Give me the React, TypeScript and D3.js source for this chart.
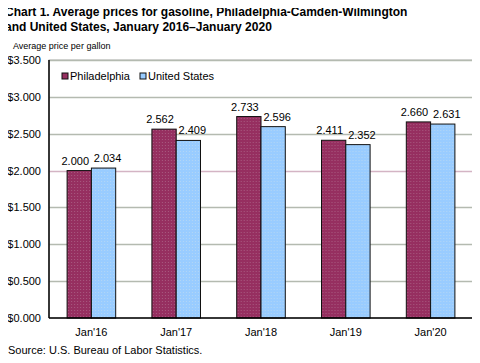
import { useEffect, useRef } from 'react'
import * as d3 from 'd3'

const categories = ["Jan'16", "Jan'17", "Jan'18", "Jan'19", "Jan'20"]
const seriesNames = ['Philadelphia', 'United States']
const philadelphia = [2.0, 2.562, 2.733, 2.411, 2.66]
const unitedStates = [2.034, 2.409, 2.596, 2.352, 2.631]
const yTicks = [0, 0.5, 1, 1.5, 2, 2.5, 3, 3.5]
const colors = ['#962f60', '#99ccff']

function App() {
  const svgRef = useRef<SVGSVGElement>(null)

  useEffect(() => {
    if (!svgRef.current) return
    const svg = d3.select(svgRef.current)
    svg.selectAll('*').remove()

    const margin = { top: 60, right: 7, bottom: 45, left: 49 }
    const W = 480
    const H = 363
    const width = W - margin.left - margin.right
    const height = H - margin.top - margin.bottom
    const font = 'Arial, "Liberation Sans", sans-serif'

    const defs = svg.append('defs')
    colors.forEach((c, i) => {
      const p = defs
        .append('pattern')
        .attr('id', `dots${i}`)
        .attr('width', 3)
        .attr('height', 3)
        .attr('patternUnits', 'userSpaceOnUse')
      p.append('rect').attr('width', 3).attr('height', 3).attr('fill', c)
      p.append('rect')
        .attr('x', 1)
        .attr('y', 1)
        .attr('width', 1)
        .attr('height', 1)
        .attr('fill', i === 0 ? '#a85a80' : '#b3d6f5')
    })

    // title
    const title = svg.append('g').attr('font-family', font).attr('font-weight', 'bold').attr('font-size', 12)
    title.append('text').attr('x', 5).attr('y', 16).text('Chart 1. Average prices for gasoline, Philadelphia-Camden-Wilmington')
    title.append('text').attr('x', 5).attr('y', 31).text('and United States, January 2016–January 2020')

    svg
      .append('text')
      .attr('x', 13)
      .attr('y', 49)
      .attr('font-family', font)
      .attr('font-size', 9)
      .text('Average price per gallon')

    const g = svg.append('g').attr('transform', `translate(${margin.left},${margin.top})`)

    const x0 = d3.scaleBand().domain(categories).range([0, width]).paddingInner(0.427).paddingOuter(0.2135)
    const x1 = d3.scaleBand().domain(seriesNames).range([0, x0.bandwidth()])
    const y = d3.scaleLinear().domain([0, 3.5]).range([height, 0])

    // plot border (top/right)
    g.append('rect')
      .attr('x', 0)
      .attr('y', 0)
      .attr('width', width)
      .attr('height', height)
      .attr('fill', 'none')
      .attr('stroke', '#b4b4b4')

    // gridlines
    g.selectAll('.grid')
      .data(yTicks.filter((t) => t > 0))
      .enter()
      .append('line')
      .attr('x1', 0)
      .attr('x2', width)
      .attr('y1', (d) => Math.round(y(d)) + 0.5)
      .attr('y2', (d) => Math.round(y(d)) + 0.5)
      .attr('stroke', (d) => (d === 2 ? '#d4b4c4' : '#b4bab0'))
      .attr('stroke-width', 1.5)

    // y labels
    g.selectAll('.ylab')
      .data(yTicks)
      .enter()
      .append('text')
      .attr('x', -8)
      .attr('y', (d) => y(d) + 4)
      .attr('text-anchor', 'end')
      .attr('font-family', font)
      .attr('font-size', 11)
      .text((d) => '$' + d3.format('.3f')(d))

    const data = categories.map((c, i) => ({ cat: c, values: [philadelphia[i], unitedStates[i]] }))

    const groups = g
      .selectAll('.grp')
      .data(data)
      .enter()
      .append('g')
      .attr('transform', (d) => `translate(${x0(d.cat)},0)`)

    groups
      .selectAll('rect')
      .data((d) => d.values.map((v, i) => ({ v, name: seriesNames[i], i })))
      .enter()
      .append('rect')
      .attr('x', (d) => x1(d.name)!)
      .attr('y', (d) => y(d.v))
      .attr('width', x1.bandwidth())
      .attr('height', (d) => height - y(d.v))
      .attr('fill', (d) => `url(#dots${d.i})`)
      .attr('stroke', '#111')
      .attr('stroke-width', 1)

    // value labels, nudged apart so neighbours don't collide
    groups
      .selectAll('.val')
      .data((d) => d.values.map((v, i) => ({ v, name: seriesNames[i], i })))
      .enter()
      .append('text')
      .attr('x', (d) => x1(d.name)! + x1.bandwidth() / 2 + (d.i === 0 ? -4 : 4))
      .attr('y', (d) => y(d.v) - 6)
      .attr('text-anchor', 'middle')
      .attr('font-family', font)
      .attr('font-size', 11)
      .text((d) => d3.format('.3f')(d.v))

    // axes lines
    g.append('line').attr('x1', 0).attr('x2', 0).attr('y1', 0).attr('y2', height).attr('stroke', '#000').attr('stroke-width', 1.5)
    g.append('line').attr('x1', 0).attr('x2', width).attr('y1', height).attr('y2', height).attr('stroke', '#000').attr('stroke-width', 1.5)

    // x labels
    g.selectAll('.xlab')
      .data(categories)
      .enter()
      .append('text')
      .attr('x', (d) => x0(d)! + x0.bandwidth() / 2)
      .attr('y', height + 18)
      .attr('text-anchor', 'middle')
      .attr('font-family', font)
      .attr('font-size', 11)
      .text((d) => d)

    // legend
    const legend = svg.append('g').attr('font-family', font).attr('font-size', 11)
    const legendX = [62, 140]
    seriesNames.forEach((name, i) => {
      legend
        .append('rect')
        .attr('x', legendX[i])
        .attr('y', 73)
        .attr('width', 6)
        .attr('height', 6)
        .attr('fill', colors[i])
        .attr('stroke', '#111')
      legend
        .append('text')
        .attr('x', legendX[i] + 8)
        .attr('y', 80)
        .text(name)
    })

    svg
      .append('text')
      .attr('x', 8)
      .attr('y', 354)
      .attr('font-family', font)
      .attr('font-size', 11)
      .text('Source: U.S. Bureau of Labor Statistics.')
  }, [])

  return <svg ref={svgRef} width={480} height={363} style={{ display: 'block', margin: -8 }} />
}

export default App
